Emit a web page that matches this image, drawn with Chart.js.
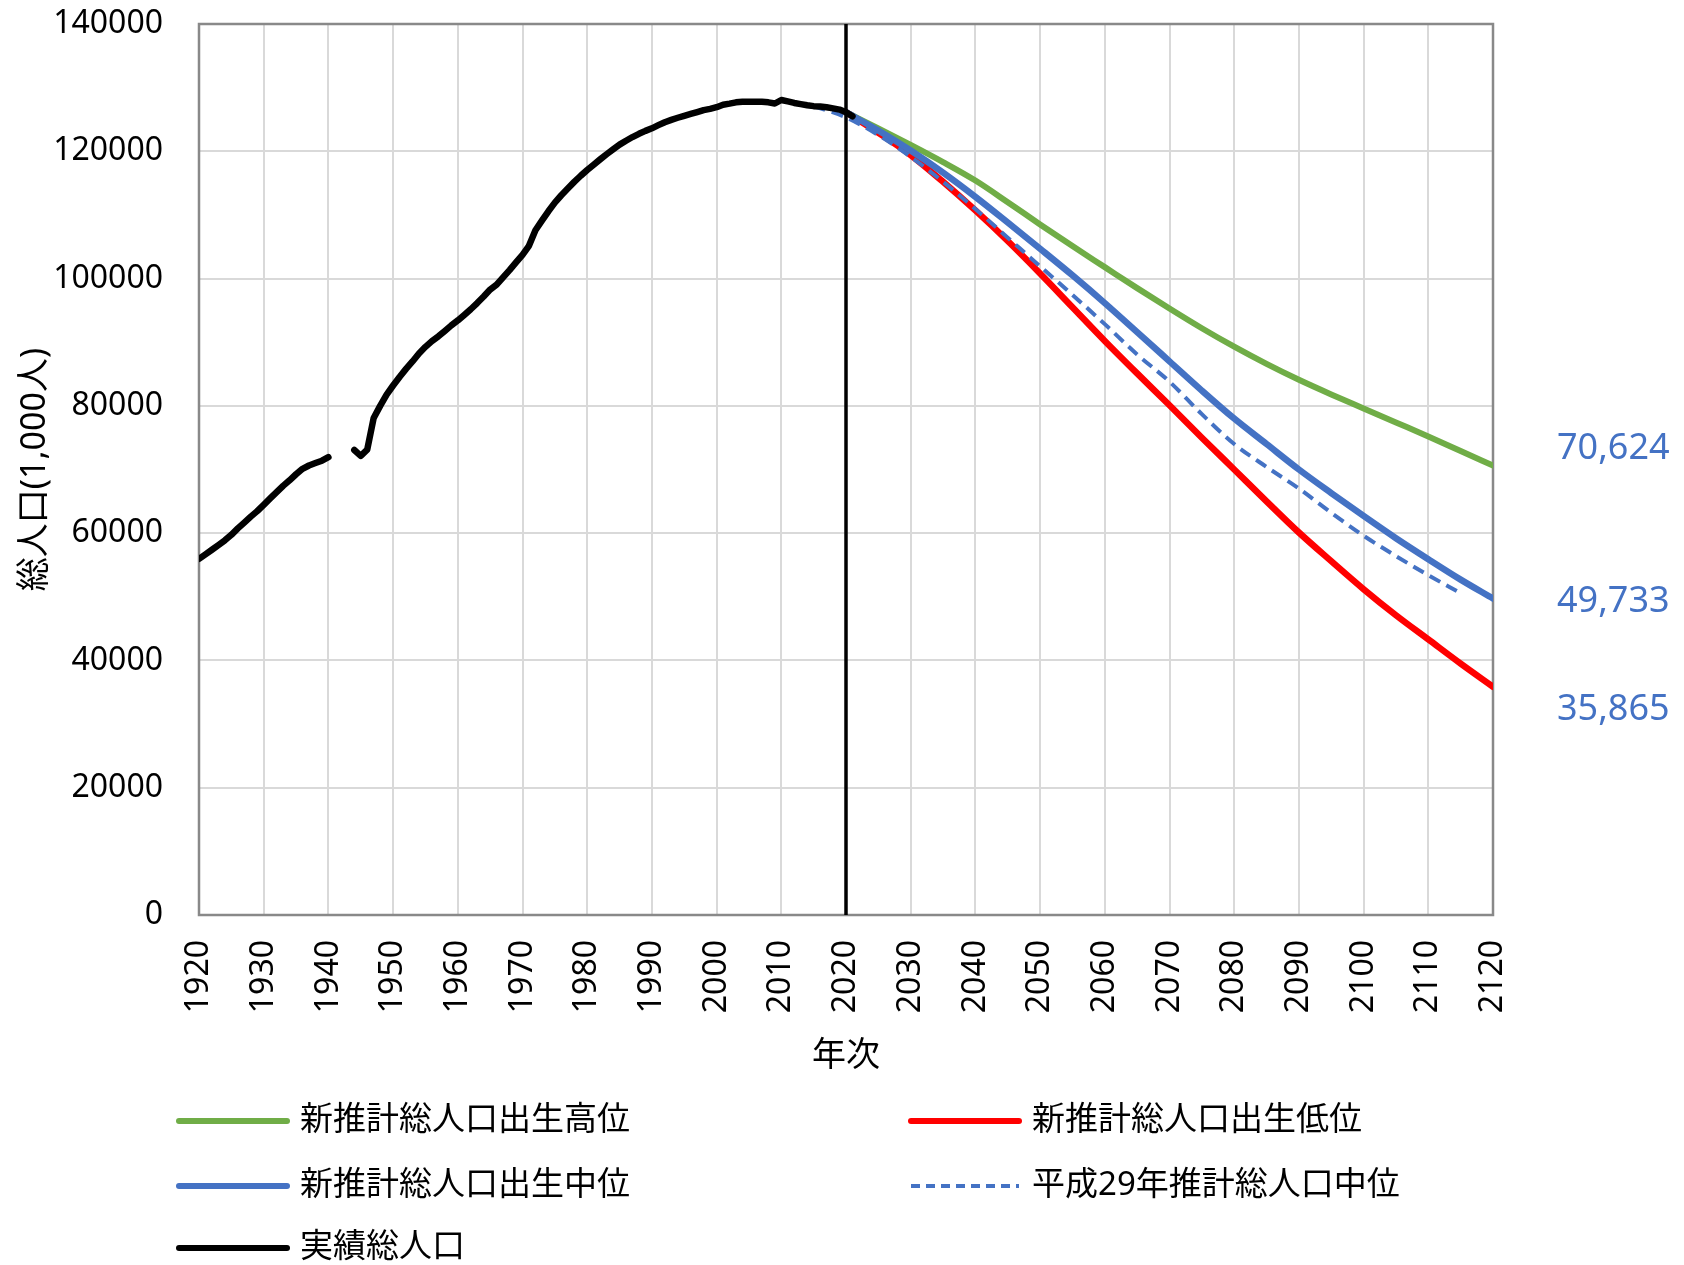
<!DOCTYPE html>
<html lang="ja">
<head>
<meta charset="utf-8">
<title>総人口の推移</title>
<script src="https://cdn.jsdelivr.net/npm/chart.js@4.4.1/dist/chart.umd.min.js"></script>
<style>
  html, body { margin: 0; padding: 0; background: #fff; }
  #wrap { width: 1684px; height: 1265px; }
</style>
</head>
<body>
<div id="wrap"><canvas id="chart" width="1684" height="1265"></canvas></div>
<script>
// 実績 (1,000人), 1941-43 は欠測
const actualYears = [
  1920, 1921, 1922, 1923, 1924, 1925, 1926, 1927, 1928, 1929,
  1930, 1931, 1932, 1933, 1934, 1935, 1936, 1937, 1938, 1939,
  1940, 1941, 1942, 1943, 1944, 1945, 1946, 1947, 1948, 1949,
  1950, 1951, 1952, 1953, 1954, 1955, 1956, 1957, 1958, 1959,
  1960, 1961, 1962, 1963, 1964, 1965, 1966, 1967, 1968, 1969,
  1970, 1971, 1972, 1973, 1974, 1975, 1976, 1977, 1978, 1979,
  1980, 1981, 1982, 1983, 1984, 1985, 1986, 1987, 1988, 1989,
  1990, 1991, 1992, 1993, 1994, 1995, 1996, 1997, 1998, 1999,
  2000, 2001, 2002, 2003, 2004, 2005, 2006, 2007, 2008, 2009,
  2010, 2011, 2012, 2013, 2014, 2015, 2016, 2017, 2018, 2019,
  2020, 2021
];
const actualPop = [
  55963, 56666, 57390, 58119, 58876, 59737, 60741, 61659, 62595, 63461,
  64450, 65457, 66434, 67432, 68309, 69254, 70114, 70630, 71013, 71380,
  71933, null, null, null, 73064, 72147, 73114, 78101, 80002, 81773,
  83200, 84541, 85808, 86981, 88239, 89276, 90172, 90928, 91767, 92641,
  93419, 94287, 95181, 96156, 97182, 98275, 99036, 100196, 101331, 102536,
  103720, 105145, 107595, 109104, 110573, 111940, 113094, 114165, 115190, 116155,
  117060, 117902, 118728, 119536, 120305, 121049, 121660, 122239, 122745, 123205,
  123611, 124101, 124567, 124938, 125265, 125570, 125859, 126157, 126472, 126667,
  126926, 127316, 127486, 127694, 127787, 127768, 127770, 127771, 127692, 127510,
  128057, 127834, 127593, 127414, 127237, 127095, 127042, 126919, 126749, 126555,
  126146, 125502
];

// 新推計 (5年ごと)
const projYears = [
  2020, 2025, 2030, 2035, 2040, 2045, 2050, 2055, 2060, 2065,
  2070, 2075, 2080, 2085, 2090, 2095, 2100, 2105, 2110, 2115, 2120
];
const highPop = [
  126146, 123600, 121000, 118300, 115400, 112000, 108500, 105100, 101800, 98500,
  95300, 92200, 89300, 86600, 84100, 81800, 79600, 77400, 75200, 72900, 70624
];
const midPop = [
  126146, 123262, 120116, 116639, 112837, 108801, 104686, 100508, 96148, 91587,
  86996, 82400, 78000, 74000, 70000, 66300, 62700, 59200, 55900, 52700, 49733
];
const lowPop = [
  126146, 122900, 119400, 115200, 110700, 105900, 100800, 95500, 90200, 85100,
  80100, 75000, 70000, 65000, 60100, 55600, 51200, 47100, 43300, 39500, 35865
];

// 平成29年推計 中位
const h29Years = [
  2015, 2020, 2025, 2030, 2035, 2040, 2045, 2050, 2055, 2060,
  2065, 2070, 2075, 2080, 2085, 2090, 2095, 2100, 2105, 2110, 2115
];
const h29Pop = [
  127095, 125325, 122544, 119125, 115216, 110919, 106421, 101923, 97441, 92840,
  88077, 83800, 78700, 74000, 70400, 67000, 63200, 59600, 56400, 53400, 50555
];

const dividerYear = 2020;

const FONT = '"Noto Sans", "Noto Sans CJK JP", sans-serif';
const pts = (xs, ys) => xs.map((x, i) => ({ x, y: ys[i] }));

const extras = {
    id: "extras",
    beforeDatasetsDraw(chart) {
        const { ctx, chartArea: a } = chart;
        ctx.save();
        ctx.strokeStyle = "#898989";
        ctx.lineWidth = 2.5;
        ctx.strokeRect(a.left, a.top, a.right - a.left, a.bottom - a.top);
        ctx.restore();
    },
    afterDatasetsDraw(chart) {
        const { ctx, chartArea: a, scales } = chart;
        const x = scales.x.getPixelForValue(dividerYear);
        ctx.save();
        ctx.strokeStyle = "#000";
        ctx.lineWidth = 3.5;
        ctx.beginPath();
        ctx.moveTo(x, a.top);
        ctx.lineTo(x, a.bottom);
        ctx.stroke();
        ctx.restore();
    },
    afterDraw(chart) {
        const { ctx, chartArea: a, scales } = chart;
        const ds = chart.data.datasets;

        // 2120年の値ラベル
        const ends = [highPop, midPop, lowPop];
        const shift = [-17, 3, 23];
        ctx.save();
        ctx.font = `36px ${FONT}`;
        ctx.fillStyle = "#4472C4";
        ctx.textAlign = "left";
        ctx.textBaseline = "middle";
        ends.forEach((arr, i) => {
            const v = arr[arr.length - 1];
            const y = scales.y.getPixelForValue(v) + shift[i];
            ctx.fillText(v.toLocaleString("en-US"), a.right + 64, y);
        });
        ctx.restore();

        // 凡例 (2列)
        const rows = [[0, 1], [2, 3], [4]];
        const colX = [179, 911];
        const rowY = [1121, 1186, 1248];
        ctx.save();
        ctx.font = `33px ${FONT}`;
        ctx.textBaseline = "middle";
        ctx.fillStyle = "#000";
        rows.forEach((row, r) => {
            row.forEach((idx, c) => {
                const d = ds[idx];
                const x0 = colX[c], y0 = rowY[r];
                ctx.strokeStyle = d.borderColor;
                ctx.lineWidth = d.borderDash ? 4 : 6;
                ctx.lineCap = d.borderDash ? "butt" : "round";
                ctx.setLineDash(d.borderDash ? [9, 6] : []);
                ctx.beginPath();
                ctx.moveTo(x0, y0);
                ctx.lineTo(x0 + 108, y0);
                ctx.stroke();
                ctx.setLineDash([]);
                ctx.fillText(d.label, x0 + 121, y0);
            });
        });
        ctx.restore();
    }
};

const lineStyle = {
    pointRadius: 0,
    pointHoverRadius: 0,
    fill: false,
    spanGaps: false,
    borderCapStyle: "round",
    borderJoinStyle: "round",
};
const projStyle = { ...lineStyle, cubicInterpolationMode: "monotone" };

new Chart(document.getElementById("chart"), {
    type: "line",
    data: {
        datasets: [
            { ...projStyle, label: "新推計総人口出生高位", data: pts(projYears, highPop),
              borderColor: "#70AD47", borderWidth: 6, order: 4 },
            { ...projStyle, label: "新推計総人口出生低位", data: pts(projYears, lowPop),
              borderColor: "#FF0000", borderWidth: 6.5, order: 3 },
            { ...projStyle, label: "新推計総人口出生中位", data: pts(projYears, midPop),
              borderColor: "#4472C4", borderWidth: 6.5, order: 2 },
            { ...projStyle, label: "平成29年推計総人口中位", data: pts(h29Years, h29Pop),
              borderColor: "#4472C4", borderWidth: 4, borderDash: [12, 7],
              borderCapStyle: "butt", order: 1 },
            { ...lineStyle, label: "実績総人口", data: pts(actualYears, actualPop),
              borderColor: "#000000", borderWidth: 6.5, tension: 0, order: 0 },
        ],
    },
    options: {
        responsive: false,
        animation: false,
        devicePixelRatio: 1,
        layout: { padding: { top: 24, right: 191, bottom: 180, left: 0 } },
        plugins: {
            legend: { display: false },
            tooltip: { enabled: false },
        },
        scales: {
            x: {
                type: "linear",
                min: 1920,
                max: 2120,
                afterFit: (s) => { s.height = 170; s.paddingLeft = 0; s.paddingRight = 0; },
                ticks: {
                    stepSize: 10,
                    minRotation: 90,
                    maxRotation: 90,
                    padding: 25,
                    color: "#000",
                    font: { family: FONT, size: 32 },
                    callback: (v) => String(v),
                },
                grid: { color: "#D9D9D9", lineWidth: 2, drawTicks: false },
                border: { display: false },
                title: {
                    display: true,
                    text: "年次",
                    color: "#000",
                    font: { family: FONT, size: 34 },
                    padding: { top: 0, bottom: 8 },
                },
            },
            y: {
                min: 0,
                max: 140000,
                afterFit: (s) => { s.width = 199; s.paddingTop = 0; s.paddingBottom = 0; },
                ticks: {
                    stepSize: 20000,
                    padding: 36,
                    color: "#000",
                    font: { family: FONT, size: 32 },
                    callback: (v) => String(v),
                },
                grid: { color: "#D9D9D9", lineWidth: 2, drawTicks: false },
                border: { display: false },
                title: {
                    display: true,
                    text: "総人口(1,000人)",
                    color: "#000",
                    font: { family: FONT, size: 34 },
                    padding: { top: 15, bottom: 0 },
                },
            },
        },
    },
    plugins: [extras],
});
</script>
</body>
</html>
